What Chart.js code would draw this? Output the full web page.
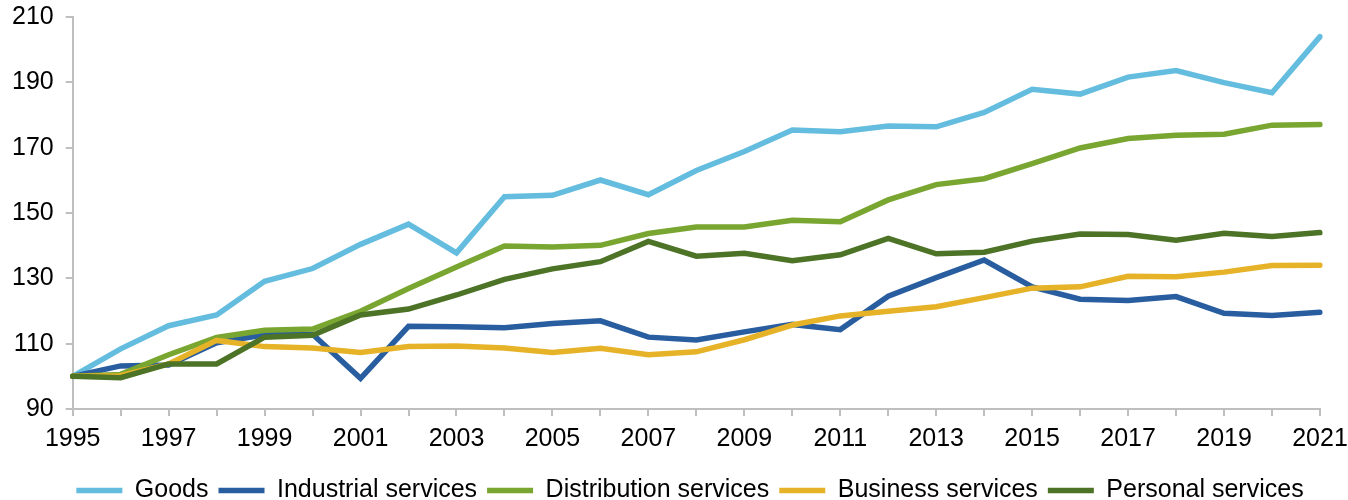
<!DOCTYPE html>
<html lang="en">
<head>
  <meta charset="UTF-8">
  <title>Output index by sector</title>
  <script src="https://cdn.jsdelivr.net/npm/chart.js"></script>
  <style>
    html, body { margin: 0; padding: 0; background: #fff; }
    .wrap { width: 1348px; height: 500px; }
  </style>
</head>
<body>
  <div class="wrap"><canvas id="sector-chart" width="1348" height="500"></canvas></div>

  <script>
    // years on the x axis
    const years = ['1995', '1996', '1997', '1998', '1999', '2000', '2001', '2002', '2003', '2004', '2005', '2006', '2007',
                   '2008', '2009', '2010', '2011', '2012', '2013', '2014', '2015', '2016', '2017', '2018', '2019', '2020', '2021'];

    const goods = [100, 108.4, 115.5, 118.8, 129.1, 133.0, 140.4, 146.6, 137.8, 155.0, 155.4, 160.1, 155.6,
                   163.0, 168.8, 175.4, 174.9, 176.6, 176.4, 180.8, 187.9, 186.4, 191.6, 193.6, 189.9, 186.8, 204.0];
    const industrial = [100, 103.2, 103.5, 110.3, 112.7, 112.9, 99.4, 115.3, 115.2, 114.9, 116.2, 117.0, 112.0,
                        111.1, 113.6, 115.9, 114.3, 124.5, 130.2, 135.6, 127.4, 123.6, 123.2, 124.4, 119.3, 118.6, 119.6];
    const distribution = [100, 100.6, 106.6, 111.9, 114.1, 114.5, 119.9, 126.9, 133.5, 139.9, 139.6, 140.1, 143.7,
                          145.7, 145.7, 147.8, 147.3, 154.0, 158.7, 160.5, 165.1, 169.9, 172.8, 173.8, 174.1, 176.9, 177.1];
    const business = [100, 100.2, 103.8, 111.0, 109.1, 108.7, 107.3, 109.1, 109.3, 108.7, 107.3, 108.6, 106.6,
                      107.5, 111.2, 115.7, 118.5, 119.9, 121.3, 124.1, 127.0, 127.4, 130.6, 130.5, 131.9, 133.9, 134.0];
    const personal = [100, 99.6, 103.8, 103.8, 112.0, 112.6, 118.8, 120.6, 124.9, 129.7, 132.9, 135.1, 141.3,
                      136.8, 137.7, 135.4, 137.2, 142.2, 137.5, 138.0, 141.4, 143.6, 143.4, 141.7, 143.8, 142.8, 144.0];

    const seriesNames = ['Goods', 'Industrial services', 'Distribution services', 'Business services', 'Personal services'];
    const seriesColors = ['#64BDDE', '#285D9F', '#79A531', '#E6B227', '#4C7326'];
    const seriesValues = [goods, industrial, distribution, business, personal];

    const yTicks = [90, 110, 130, 150, 170, 190, 210];

    const FONT = "'Liberation Sans', Arial, sans-serif";
    const AXIS_GREY = '#BFBFBF';

    const datasets = seriesNames.map((name, i) => ({
      label: name,
      data: seriesValues[i],
      borderColor: seriesColors[i],
      backgroundColor: seriesColors[i],
      borderWidth: 5.5,
      borderCapStyle: 'round',
      pointRadius: 0,
      pointHoverRadius: 0,
      tension: 0,
      fill: false,
      // later series sit on top, like the spreadsheet original
      order: seriesNames.length - i
    }));

    // nudge the legend row to the right a little
    const legendShift = {
      id: 'legendShift',
      afterLayout(chart) {
        chart.legend.left += 30;
        chart.legend.right += 30;
      }
    };

    const ctx = document.getElementById('sector-chart').getContext('2d');
    new Chart(ctx, {
      type: 'line',
      data: { labels: years, datasets: datasets },
      plugins: [legendShift],
      options: {
        responsive: false,
        animation: false,
        layout: { padding: { top: 17, right: 28, left: 0, bottom: -13 } },
        plugins: {
          tooltip: { enabled: false },
          legend: {
            position: 'bottom',
            labels: {
              usePointStyle: true,
              pointStyle: 'line',
              pointStyleWidth: 46,
              padding: 10,
              color: '#000',
              font: { family: FONT, size: 25 },
              sort: (a, b) => a.datasetIndex - b.datasetIndex
            }
          }
        },
        scales: {
          x: {
            type: 'category',
            offset: false,
            afterFit: (scale) => {
              scale.height += 6;
              scale.paddingLeft = 0;
              scale.paddingRight = 0;
            },
            border: { color: AXIS_GREY, width: 2 },
            grid: { drawOnChartArea: false, drawTicks: true, tickLength: 7, color: AXIS_GREY, lineWidth: 2 },
            ticks: {
              autoSkip: false,
              maxRotation: 0,
              padding: 8,
              color: '#000',
              font: { family: FONT, size: 25 },
              callback: function (val, idx) { return idx % 2 === 0 ? this.getLabelForValue(val) : ''; }
            }
          },
          y: {
            min: yTicks[0],
            max: yTicks[yTicks.length - 1],
            afterFit: (scale) => {
              scale.paddingTop = 0;
              scale.paddingBottom = 0;
            },
            border: { color: AXIS_GREY, width: 2 },
            grid: { drawOnChartArea: false, drawTicks: true, tickLength: 7, color: AXIS_GREY, lineWidth: 2 },
            afterBuildTicks: (scale) => { scale.ticks = yTicks.map(v => ({ value: v })); },
            ticks: {
              padding: 12,
              color: '#000',
              font: { family: FONT, size: 25 }
            }
          }
        }
      }
    });
  </script>
</body>
</html>
